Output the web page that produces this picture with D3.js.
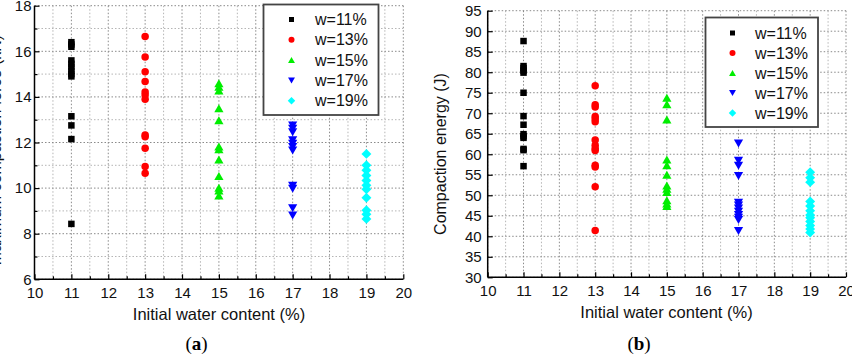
<!DOCTYPE html>
<html><head><meta charset="utf-8">
<script src="https://cdn.jsdelivr.net/npm/d3@7"></script>
<style>body{margin:0;background:#fff}svg{display:block}text{font-family:"Liberation Sans",Arial,sans-serif}</style>
</head><body>
<script>
// ---- data ----
const seriesNames = ["w=11%","w=13%","w=15%","w=17%","w=19%"];
const waterContent = [11,13,15,17,19];
const seriesColors = ["#000000","#ff0000","#00ee00","#0000ff","#00ffff"];
const seriesShapes = ["square","circle","triUp","triDown","diamond"];

// (a) maximum compaction force (kN)
const forceW11 = [16.4,16.3,16.2,15.6,15.45,15.3,15.15,15.0,14.9,13.15,12.75,12.15,8.43];
const forceW13 = [16.65,15.75,15.1,14.68,14.22,14.08,13.9,12.33,12.25,11.75,10.95,10.65];
const forceW15 = [14.6,14.45,14.28,13.5,12.98,11.82,11.7,11.25,10.53,10.02,9.9,9.68];
const forceW17 = [12.75,12.6,12.45,12.1,11.95,11.8,11.65,10.1,9.97,9.12,8.8];
const forceW19 = [11.5,11.0,10.78,10.55,10.33,10.12,9.95,9.58,9.03,8.85,8.65];

// (b) compaction energy (J)
const energyW11 = [87.6,81.5,81.0,80.4,79.9,75.0,69.3,67.2,64.9,64.4,64.0,61.3,61.0,57.1];
const energyW13 = [76.7,72.1,71.5,69.2,68.6,67.9,63.5,62.2,61.4,60.9,57.3,56.9,52.1,41.4];
const energyW15 = [73.8,72.2,68.5,58.7,57.3,55.0,52.4,51.6,50.8,48.8,48.0,47.4];
const energyW17 = [62.6,58.4,57.2,54.7,48.2,47.5,46.8,46.0,45.2,44.5,44.0,41.3];
const energyW19 = [55.6,54.3,53.2,48.5,47.4,46.2,45.2,44.5,43.6,42.6,41.8,40.9];

const xTicks = [10,11,12,13,14,15,16,17,18,19,20];
const forceTicks = [6,8,10,12,14,16,18];
const energyTicks = [30,35,40,45,50,55,60,65,70,75,80,85,90,95];

// ---- drawing ----
const svg = d3.select("body").append("svg").attr("width",852).attr("height",354);

function markerPath(shape, s){
  const p = d3.path();
  if(shape==="square"){ p.rect(-s/2,-s/2,s,s); }
  else if(shape==="circle"){ p.moveTo(s/2,0); p.arc(0,0,s/2,0,2*Math.PI); }
  else if(shape==="triUp"){ const w=s*1.15,h=s; p.moveTo(0,-h/2); p.lineTo(w/2,h/2); p.lineTo(-w/2,h/2); p.closePath(); }
  else if(shape==="triDown"){ const w=s*1.15,h=s; p.moveTo(0,h/2); p.lineTo(w/2,-h/2); p.lineTo(-w/2,-h/2); p.closePath(); }
  else if(shape==="diamond"){ const r=s*0.62; p.moveTo(0,-r); p.lineTo(r,0); p.lineTo(0,r); p.lineTo(-r,0); p.closePath(); }
  return p.toString();
}

function panel(cfg){
  const x = d3.scaleLinear().domain([10,20]).range([cfg.x0,cfg.x1]);
  const y = d3.scaleLinear().domain(cfg.yDomain).range([cfg.y1,cfg.y0]);
  const g = svg.append("g");
  // grid
  const xGrid = d3.range(10,20.01,0.5);
  g.selectAll(null).data(xGrid).join("line")
    .attr("x1",d=>x(d)).attr("x2",d=>x(d)).attr("y1",cfg.y0).attr("y2",cfg.y1)
    .attr("stroke",d=>Number.isInteger(d)?"#8a8a8a":"#b5b5b5").attr("stroke-width",1).attr("stroke-dasharray","1.5,2");
  g.selectAll(null).data(cfg.yGrid).join("line")
    .attr("x1",cfg.x0).attr("x2",cfg.x1).attr("y1",d=>y(d)).attr("y2",d=>y(d))
    .attr("stroke",d=>cfg.yTicks.includes(d)?"#8a8a8a":"#b5b5b5").attr("stroke-width",1).attr("stroke-dasharray","1.5,2");
  // axes
  const xAxis = d3.axisBottom(x).tickValues(xTicks).tickSize(-5).tickPadding(8).tickFormat(d3.format("d"));
  const ax = g.append("g").attr("transform",`translate(0,${cfg.y1})`).call(xAxis);
  const xMinor = d3.axisBottom(x).tickValues(d3.range(10.5,20,1)).tickSize(-3).tickFormat("");
  g.append("g").attr("transform",`translate(0,${cfg.y1})`).call(xMinor).select(".domain").remove();
  const yAxis = d3.axisLeft(y).tickValues(cfg.yTicks).tickSize(-5).tickPadding(cfg.yPad).tickFormat(d3.format("d"));
  const ay = g.append("g").attr("transform",`translate(${cfg.x0},0)`).call(yAxis);
  if(cfg.yMinor){
    const yMin = d3.axisLeft(y).tickValues(cfg.yMinor).tickSize(-3).tickFormat("");
    g.append("g").attr("transform",`translate(${cfg.x0},0)`).call(yMin).select(".domain").remove();
  }
  g.selectAll(".domain").attr("stroke","#000").attr("stroke-width",1.5);
  ax.select(".domain").attr("d",`M${cfg.x0},0H${cfg.x1}`);
  ay.select(".domain").attr("d",`M0,${cfg.y1}V${cfg.y0}`);
  g.selectAll(".tick line").attr("stroke","#000").attr("stroke-width",1.2);
  g.selectAll(".tick text").attr("font-size",15).attr("fill","#111").style("font-family",'"Liberation Sans",Arial,sans-serif');
  // points
  cfg.series.forEach((vals,i)=>{
    g.selectAll(null).data(vals).join("path")
      .attr("d",markerPath(seriesShapes[i],i===0?6.5:(i===1?7.5:8)))
      .attr("transform",d=>`translate(${x(waterContent[i])},${y(d)})`)
      .attr("fill",seriesColors[i]);
  });
  // legend
  const L = cfg.legend;
  g.append("rect").attr("x",L.x).attr("y",L.y).attr("width",L.w).attr("height",L.h)
    .attr("fill","#fff").attr("stroke","#444").attr("stroke-width",1.8);
  seriesNames.forEach((n,i)=>{
    const yy = L.y + L.first + i*L.step;
    g.append("path").attr("d",markerPath(seriesShapes[i],i===0?5:6))
      .attr("transform",`translate(${L.mx},${yy})`).attr("fill",seriesColors[i]);
    g.append("text").attr("x",L.tx).attr("y",yy+5.5).attr("font-size",16).attr("fill","#111").text(n);
  });
  // titles
  g.append("text").attr("x",(cfg.xt)).attr("y",cfg.xty).attr("text-anchor","middle").attr("font-size",16.5).attr("fill","#111")
    .text("Initial water content (%)");
  g.append("text").attr("transform",`translate(${cfg.ytx},${cfg.yty}) rotate(-90)`).attr("text-anchor","middle")
    .attr("font-size",16).attr("fill","#111").text(cfg.yTitle);
  const lab = g.append("text").attr("x",cfg.labX).attr("y",350).attr("text-anchor","middle")
    .attr("font-size",19).attr("fill","#000").style("font-family",'"Liberation Serif","Times New Roman",serif');
  lab.append("tspan").text("(");
  lab.append("tspan").attr("font-weight","bold").text(cfg.lab);
  lab.append("tspan").text(")");
}

panel({
  x0:34.5, x1:403.3, y0:5.7, y1:279.3, yDomain:[6,18],
  yTicks:forceTicks, yGrid:d3.range(6,18.01,1), yMinor:[7,9,11,13,15,17], yPad:3,
  series:[forceW11,forceW13,forceW15,forceW17,forceW19],
  legend:{x:263.5,y:4.5,w:115,h:110.5,first:15,step:20.3,mx:291.5,tx:315},
  xt:219, xty:320, ytx:1, yty:150, yTitle:"Maximum compaction force (kN)",
  labX:196.5, lab:"a"
});
panel({
  x0:487.7, x1:846, y0:10.7, y1:277.3, yDomain:[30,95],
  yTicks:energyTicks, yGrid:energyTicks, yMinor:null, yPad:6,
  series:[energyW11,energyW13,energyW15,energyW17,energyW19],
  legend:{x:705.5,y:17.5,w:112.5,h:109.5,first:15.5,step:20,mx:732.5,tx:755},
  xt:666.5, xty:318, ytx:446, yty:154, yTitle:"Compaction energy (J)",
  labX:639, lab:"b"
});
</script>
</body></html>
